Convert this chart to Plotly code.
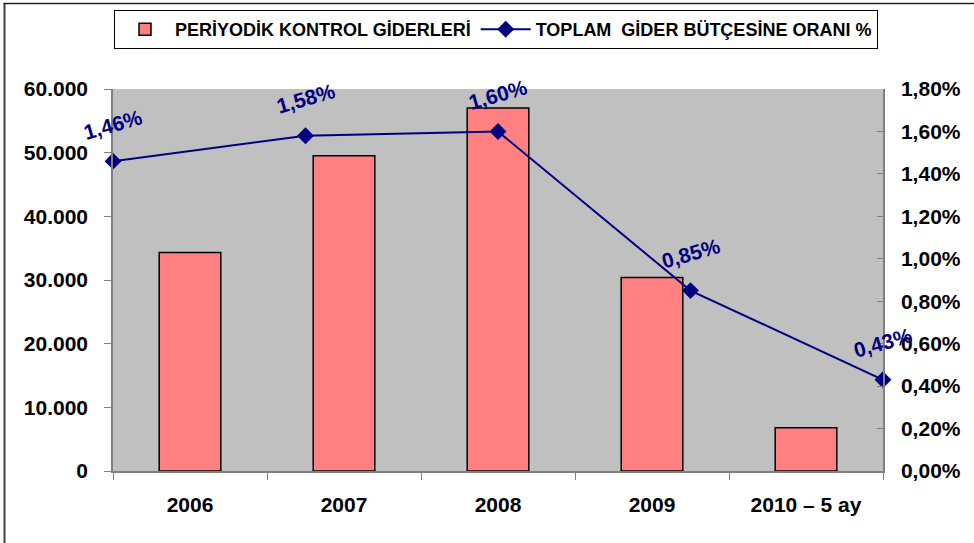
import plotly.graph_objects as go

categories = ["2006", "2007", "2008", "2009", "2010 – 5 ay"]
expenses = [34300, 49500, 57000, 30400, 6800]
ratio_pct = [1.46, 1.58, 1.60, 0.85, 0.43]
bar_name = "PERİYODİK KONTROL GİDERLERİ"
line_name = "TOPLAM  GİDER BÜTÇESİNE ORANI %"

FONT = "Liberation Sans, Arial, sans-serif"
NAVY = "#000080"
GREY = "#808080"

fig = go.Figure()
fig.add_trace(go.Bar(
    x=categories, y=expenses, name=bar_name, width=0.4,
    marker=dict(color="#FF8080", line=dict(color="black", width=1.5)),
    xaxis="x", yaxis="y",
))
fig.add_trace(go.Scatter(
    x=list(range(len(ratio_pct))), y=[v / 100 for v in ratio_pct], name=line_name,
    mode="lines+markers", line=dict(color=NAVY, width=2),
    marker=dict(symbol="diamond", size=13, color=NAVY),
    xaxis="x2", yaxis="y2", cliponaxis=False,
))

annotations = []
for i, v in enumerate(ratio_pct):
    annotations.append(dict(
        x=i, y=v / 100, xref="x2", yref="y2",
        text=f"{v:.2f}".replace(".", ",") + "%",
        showarrow=False, yshift=37, textangle=-16,
        font=dict(family=FONT, size=21, color=NAVY, weight="bold"),
    ))

W, H = 974, 543
L, R, T, B = 113, 883, 89, 471
pw, ph = R - L, B - T

def px(x):
    return (x - L) / pw

def py(y):
    return (B - y) / ph

shapes = [
    dict(type="line", xref="paper", yref="paper", x0=px(4.5), x1=px(4.5), y0=py(3.5), y1=py(560),
         line=dict(color="#404040", width=2)),
    dict(type="line", xref="paper", yref="paper", x0=px(3.5), x1=px(990), y0=py(3.5), y1=py(3.5),
         line=dict(color="#202020", width=1.5)),
]

tickfont = dict(family=FONT, size=21, color="black", weight="bold")

fig.update_layout(
    width=W, height=H,
    margin=dict(l=L, r=W - R, t=T, b=H - B, autoexpand=False),
    paper_bgcolor="white", plot_bgcolor="#C0C0C0",
    separators=",.",
    showlegend=True,
    legend=dict(
        orientation="h", x=px(496), xanchor="center", y=py(10), yanchor="top",
        bgcolor="white", bordercolor="black", borderwidth=1,
        font=dict(family=FONT, size=18, color="black", weight="bold"),
        itemwidth=50,
    ),
    xaxis=dict(
        type="category", showgrid=False, tickson="boundaries",
        ticks="outside", ticklen=7, tickcolor=GREY,
        showline=True, linecolor=GREY, linewidth=1.5,
        tickfont=tickfont, ticklabelstandoff=14,
    ),
    xaxis2=dict(overlaying="x", range=[0, 4], visible=False),
    yaxis=dict(
        range=[0, 60000], dtick=10000, tickformat=",d", showgrid=False,
        ticks="outside", ticklen=7, tickcolor=GREY,
        showline=True, linecolor=GREY, linewidth=1.5,
        tickfont=tickfont, ticklabelstandoff=12, zeroline=False,
    ),
    yaxis2=dict(
        overlaying="y", side="right", range=[0, 0.018], dtick=0.002, tickformat=".2%",
        showgrid=False, ticks="inside", ticklen=6, tickcolor=GREY,
        showline=True, linecolor=GREY, linewidth=1.5,
        tickfont=tickfont, ticklabelstandoff=12, zeroline=False,
    ),
    annotations=annotations,
    shapes=shapes,
)

fig.write_html("out.html", config={"displayModeBar": False},
               post_script="document.body.style.margin='0';")
